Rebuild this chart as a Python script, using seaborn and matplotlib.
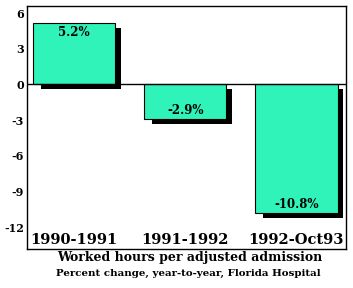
import matplotlib
matplotlib.use("Agg")
import matplotlib.pyplot as plt
import matplotlib.transforms as mtransforms
import seaborn as sns
import pandas as pd

categories = ["1990-1991", "1991-1992", "1992-Oct93"]
values = [5.2, -2.9, -10.8]
value_labels = ["5.2%", "-2.9%", "-10.8%"]
yticks = [6, 3, 0, -3, -6, -9, -12]
ytick_labels = ["6", "3", "0", "-3", "-6", "-9", "-12"]
xlabel = "Worked hours per adjusted admission"
subtitle = "Percent change, year-to-year, Florida Hospital"

df = pd.DataFrame({"period": categories, "change": values})

sns.set_style("white")
plt.rcParams["font.family"] = ["DejaVu Serif"]
plt.rcParams["font.weight"] = "bold"
plt.rcParams["text.color"] = "black"
plt.rcParams["axes.labelcolor"] = "black"
plt.rcParams["xtick.color"] = "black"
plt.rcParams["ytick.color"] = "black"

fig = plt.figure(figsize=(3.53, 2.88), dpi=100)
ax = fig.add_axes([27/353, 1 - 249/288, (346 - 27)/353, (249 - 6)/288])

bar_color = "#2ff3b8"
# shadow bars
sns.barplot(data=df, x="period", y="change", order=categories, color="black",
            width=0.72, ax=ax, saturation=1, linewidth=0, zorder=1)
shift = mtransforms.ScaledTranslation(7/100, -5/100, fig.dpi_scale_trans)
for p in ax.patches:
    p.set_transform(ax.transData + shift)
n_shadow = len(ax.patches)
# main bars
sns.barplot(data=df, x="period", y="change", order=categories, color=bar_color,
            width=0.74, ax=ax, saturation=1, edgecolor="black", linewidth=0.8, zorder=2)

ax.axhline(0, color="black", linewidth=1.0, zorder=3)

ax.set_xlim(-0.423, 2.446)
ax.set_ylim(-13.85, 6.6)
ax.set_yticks(yticks)
ax.set_yticklabels(ytick_labels, fontsize=8, fontweight="bold", color="black")
ax.tick_params(axis="y", length=0, pad=2)
ax.set_xticks([])
ax.set_xlabel("")
ax.set_ylabel("")

for s in ax.spines.values():
    s.set_color("black")
    s.set_linewidth(1.0)

# value labels inside bars
main_patches = ax.patches[n_shadow:]
for p, lab, v in zip(main_patches, value_labels, values):
    cx = p.get_x() + p.get_width() / 2
    off = -10 if v >= 0 else 8
    ax.annotate(lab, (cx, v), xytext=(0, off), textcoords="offset pixels",
                ha="center", va="center", fontsize=8.5, fontweight="bold",
                color="black", zorder=4)

# category labels inside the axes at bottom
trans = mtransforms.blended_transform_factory(ax.transData, ax.transAxes)
for i, c in enumerate(categories):
    ax.text(i, 0.037, c, transform=trans, ha="center", va="center",
            fontsize=10.5, fontweight="bold", color="black", zorder=4)

fig.text(190/353, 1 - 258/288, xlabel, ha="center", va="center",
         fontsize=9, fontweight="bold", color="black")
fig.text(188/353, 1 - 273/288, subtitle, ha="center", va="center",
         fontsize=7.4, fontweight="bold", color="black")

fig.savefig("out.png", dpi=100, facecolor="white")
